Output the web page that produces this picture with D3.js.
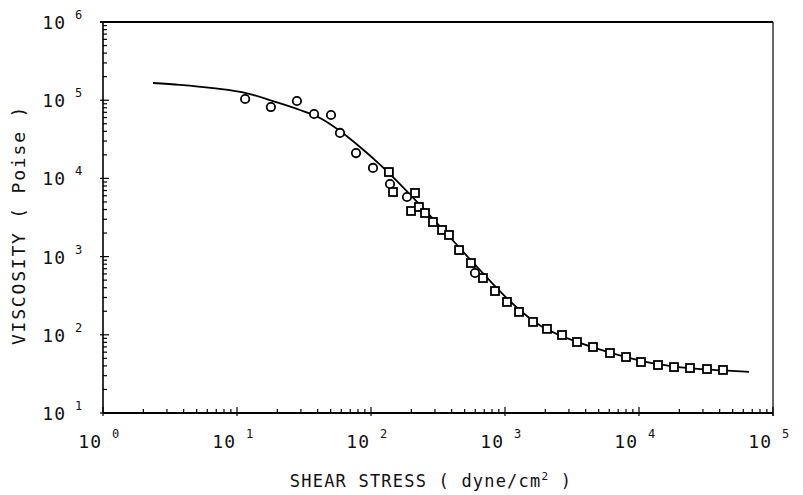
<!DOCTYPE html>
<html>
<head>
<meta charset="utf-8">
<script src="https://cdn.jsdelivr.net/npm/d3@7"></script>
<style>
  body { margin: 0; background: #fff; }
  text { font-family: "DejaVu Sans Mono", monospace; fill: #111; }
</style>
</head>
<body>
<script>
  var width = 803;
  var height = 495;

  // decades shown on each axis
  var xDecades = [0, 1, 2, 3, 4, 5];
  var yDecades = [1, 2, 3, 4, 5, 6];

  // circles: low shear stress measurements
  var circleStress = [11.5, 17.9, 28.0, 37.6, 50.3, 58.7, 77.3, 103.5, 138.6, 185.6, 597];
  var circleVisc   = [103600, 81800, 97700, 66600, 64700, 38100, 21100, 13600, 8480, 5780, 617];

  // squares: high shear stress measurements
  var squareStress = [136, 146, 213, 199, 228, 253, 290, 339, 382, 454, 557, 685, 842, 1035,
                      1272, 1618, 2058, 2664, 3446, 4536, 6075, 8000, 10350, 13860, 18250,
                      24020, 32170, 42350];
  var squareVisc   = [12070, 6700, 6510, 3830, 4310, 3610, 2770, 2190, 1890, 1214, 828, 532, 363, 263,
                      196, 146, 119, 99.4, 80.9, 69.8, 58.5, 52.0, 44.9, 41.1, 38.7,
                      37.6, 36.5, 35.5];

  // fitted curve
  var fitStress = [2.362, 3.756, 6.622, 11.88, 18.57, 29.52, 41.63, 58.71, 82.78, 116.7, 156.3,
                   205.8, 275.6, 369.2, 548, 773, 1035, 1294, 1618, 2058, 2664, 4536, 8000,
                   13860, 24030, 42350, 66220];
  var fitVisc   = [165900, 156900, 142400, 122500, 97400, 74930, 59200, 40370, 25200, 15010, 9236,
                   5682, 3344, 1945, 923.5, 489, 293, 205.7, 151.5, 117.2, 95.96, 69.0, 52.0,
                   42.3, 37.4, 35.0, 33.6];

  var pLeft = 103, pRight = 773, pTop = 22, pBottom = 413;

  var x = d3.scaleLog().domain([1, 1e5]).range([pLeft, pRight]);
  var y = d3.scaleLog().domain([10, 1e6]).range([pBottom, pTop]);

  var svg = d3.select("body")
    .append("svg")
    .attr("width", width)
    .attr("height", height);

  // frame
  svg.append("line").attr("x1", pLeft - 3).attr("x2", pRight).attr("y1", pTop).attr("y2", pTop)
    .attr("stroke", "#000").attr("stroke-width", 2.2);
  svg.append("line").attr("x1", pRight).attr("x2", pRight).attr("y1", pTop).attr("y2", pBottom + 3)
    .attr("stroke", "#000").attr("stroke-width", 1.2);
  svg.append("line").attr("x1", pLeft).attr("x2", pLeft).attr("y1", pTop).attr("y2", pBottom)
    .attr("stroke", "#000").attr("stroke-width", 1.6);
  svg.append("line").attr("x1", pLeft).attr("x2", pRight).attr("y1", pBottom).attr("y2", pBottom)
    .attr("stroke", "#000").attr("stroke-width", 2);

  function isMajor(d) { return Math.abs(Math.log10(d) - Math.round(Math.log10(d))) < 1e-9; }

  // ticks
  svg.append("g").selectAll("line")
    .data(y.ticks())
    .enter()
    .append("line")
    .attr("x1", function(d) { return isMajor(d) ? pLeft - 3 : pLeft; })
    .attr("x2", function(d) { return isMajor(d) ? pLeft + 6 : pLeft + 4; })
    .attr("y1", function(d) { return y(d); })
    .attr("y2", function(d) { return y(d); })
    .attr("stroke", "#000")
    .attr("stroke-width", 1.2);

  svg.append("g").selectAll("line")
    .data(x.ticks())
    .enter()
    .append("line")
    .attr("x1", function(d) { return x(d); })
    .attr("x2", function(d) { return x(d); })
    .attr("y1", function(d) { return isMajor(d) ? pBottom + 3 : pBottom; })
    .attr("y2", function(d) { return isMajor(d) ? pBottom - 6 : pBottom - 4; })
    .attr("stroke", "#000")
    .attr("stroke-width", 1.2);

  // tick labels
  var yLab = svg.append("g").selectAll("g")
    .data(yDecades)
    .enter()
    .append("g");
  yLab.append("text")
    .attr("x", 66)
    .attr("y", function(d) { return y(Math.pow(10, d)) + 7; })
    .attr("text-anchor", "end")
    .style("font-size", "18px")
    .style("letter-spacing", "1px")
    .text("10");
  yLab.append("text")
    .attr("x", 75)
    .attr("y", function(d) { return y(Math.pow(10, d)) - 3; })
    .style("font-size", "12px")
    .text(function(d) { return d; });

  var xLab = svg.append("g").selectAll("g")
    .data(xDecades)
    .enter()
    .append("g");
  xLab.append("text")
    .attr("x", function(d) { return x(Math.pow(10, d)) - 1; })
    .attr("y", 448)
    .attr("text-anchor", "end")
    .style("font-size", "18px")
    .style("letter-spacing", "1px")
    .text("10");
  xLab.append("text")
    .attr("x", function(d) { return x(Math.pow(10, d)) + 9; })
    .attr("y", 438)
    .style("font-size", "12px")
    .text(function(d) { return d; });

  // axis titles
  svg.append("text")
    .attr("x", 431)
    .attr("y", 487)
    .attr("text-anchor", "middle")
    .style("font-size", "17px")
    .style("letter-spacing", "1.2px")
    .html('SHEAR STRESS ( dyne/cm<tspan dy="-7" style="font-size:11px">2</tspan><tspan dy="7"> )</tspan>');

  svg.append("text")
    .attr("transform", "translate(25,225) rotate(-90)")
    .attr("text-anchor", "middle")
    .style("font-size", "18px")
    .style("letter-spacing", "1.8px")
    .text("VISCOSITY ( Poise )");

  // fitted curve
  var fitData = fitStress.map(function(s, i) { return [s, fitVisc[i]]; });
  var line = d3.line()
    .x(function(d) { return x(d[0]); })
    .y(function(d) { return y(d[1]); })
    .curve(d3.curveMonotoneX);
  svg.append("path")
    .datum(fitData)
    .attr("d", line)
    .attr("fill", "none")
    .attr("stroke", "#000")
    .attr("stroke-width", 1.8);

  // squares
  var sqData = squareStress.map(function(s, i) { return [s, squareVisc[i]]; });
  svg.append("g").selectAll("rect")
    .data(sqData)
    .enter()
    .append("rect")
    .attr("x", function(d) { return x(d[0]) - 4; })
    .attr("y", function(d) { return y(d[1]) - 4; })
    .attr("width", 8)
    .attr("height", 8)
    .attr("fill", "#fff")
    .attr("stroke", "#000")
    .attr("stroke-width", 1.8);

  // circles
  var ciData = circleStress.map(function(s, i) { return [s, circleVisc[i]]; });
  svg.append("g").selectAll("circle")
    .data(ciData)
    .enter()
    .append("circle")
    .attr("cx", function(d) { return x(d[0]); })
    .attr("cy", function(d) { return y(d[1]); })
    .attr("r", 4.2)
    .attr("fill", "#fff")
    .attr("stroke", "#000")
    .attr("stroke-width", 1.8);
</script>
</body>
</html>
